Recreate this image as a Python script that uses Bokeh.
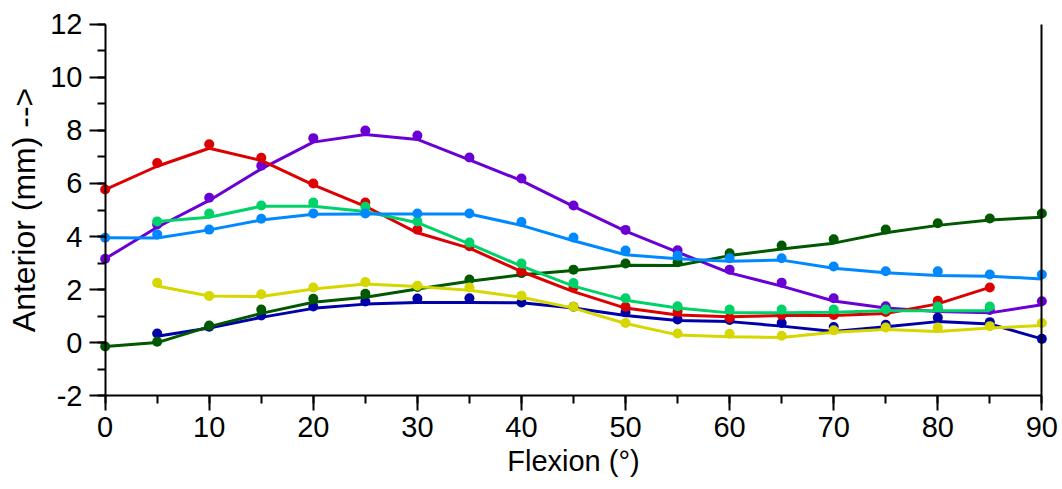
from bokeh.plotting import figure
from bokeh.models import Range1d, LinearAxis, SingleIntervalTicker, ColumnDataSource
from bokeh.embed import file_html
from bokeh.resources import INLINE

# ---- data ----
x_full = [0, 5, 10, 15, 20, 25, 30, 35, 40, 45, 50, 55, 60, 65, 70, 75, 80, 85, 90]
x_red = x_full[:18]                 # 0..85
x_green = x_full[1:18]              # 5..85
x_from5 = x_full[1:]                # 5..90

red_pts = [5.77, 6.77, 7.48, 6.97, 6.0, 5.28, 4.26, 3.63, 2.68, 2.08, 1.35, 1.17, 0.93, 1.04, 1.04, 1.15, 1.58, 2.08]
red_fit = [5.77, 6.65, 7.33, 6.87, 5.95, 5.14, 4.14, 3.56, 2.68, 1.92, 1.3, 1.04, 0.97, 1.02, 1.02, 1.1, 1.46, 2.08]

purple_pts = [3.16, 4.45, 5.46, 6.67, 7.71, 8.0, 7.81, 6.98, 6.19, 5.17, 4.25, 3.48, 2.75, 2.26, 1.67, 1.37, 1.27, 1.23, 1.56]
purple_fit = [3.16, 4.35, 5.36, 6.55, 7.56, 7.85, 7.66, 6.89, 6.11, 5.14, 4.2, 3.41, 2.63, 2.13, 1.57, 1.3, 1.17, 1.12, 1.43]

green_pts = [4.57, 4.87, 5.17, 5.28, 5.12, 4.57, 3.77, 2.98, 2.25, 1.67, 1.37, 1.25, 1.25, 1.25, 1.25, 1.36, 1.36]
green_fit = [4.57, 4.73, 5.14, 5.14, 4.94, 4.52, 3.72, 2.88, 2.13, 1.6, 1.3, 1.12, 1.12, 1.14, 1.2, 1.2, 1.2]

blue_pts = [3.95, 4.08, 4.26, 4.67, 4.87, 4.87, 4.87, 4.87, 4.55, 3.96, 3.47, 3.28, 3.18, 3.18, 2.87, 2.69, 2.69, 2.57, 2.57]
blue_fit = [3.95, 3.94, 4.25, 4.62, 4.84, 4.85, 4.85, 4.85, 4.42, 3.84, 3.31, 3.16, 3.07, 3.11, 2.8, 2.63, 2.53, 2.5, 2.4]

yellow_pts = [2.26, 1.76, 1.82, 2.08, 2.28, 2.14, 2.08, 1.77, 1.35, 0.74, 0.34, 0.33, 0.26, 0.46, 0.57, 0.57, 0.62, 0.74]
yellow_fit = [2.13, 1.76, 1.74, 2.02, 2.21, 2.11, 1.97, 1.71, 1.3, 0.72, 0.29, 0.22, 0.19, 0.39, 0.49, 0.42, 0.55, 0.64]

dkgreen_pts = [-0.15, 0.03, 0.64, 1.25, 1.65, 1.84, 2.1, 2.38, 2.62, 2.75, 2.98, 3.03, 3.37, 3.66, 3.9, 4.26, 4.5, 4.68, 4.87]
dkgreen_fit = [-0.15, 0.0, 0.6, 1.1, 1.52, 1.71, 2.02, 2.31, 2.56, 2.72, 2.92, 2.91, 3.28, 3.53, 3.75, 4.14, 4.42, 4.62, 4.73]

dkblue_pts = [0.34, 0.6, 1.02, 1.36, 1.55, 1.66, 1.67, 1.51, 1.35, 1.14, 0.87, 0.85, 0.74, 0.59, 0.67, 0.94, 0.77, 0.14]
dkblue_fit = [0.24, 0.55, 0.95, 1.29, 1.45, 1.51, 1.51, 1.5, 1.3, 1.02, 0.83, 0.79, 0.62, 0.42, 0.6, 0.79, 0.7, 0.14]

x_min, x_max = 0, 90
y_min, y_max = -2, 12

# drawing order bottom -> top
series = [
    (x_full, purple_pts, purple_fit, "#6A00D4"),
    (x_from5, dkblue_pts, dkblue_fit, "#0000A8"),
    (x_full, dkgreen_pts, dkgreen_fit, "#005800"),
    (x_red, red_pts, red_fit, "#DC0000"),
    (x_green, green_pts, green_fit, "#00D26A"),
    (x_full, blue_pts, blue_fit, "#0088FF"),
    (x_from5, yellow_pts, yellow_fit, "#D6D600"),
]

FONT = "Liberation Sans"

# frame is padded symmetrically so that edge markers and outward ticks are not clipped
p = figure(width=1062, height=489, output_backend="svg", toolbar_location=None,
           x_range=Range1d(x_min - 1.6, x_max + 1.6), y_range=Range1d(y_min - 0.6, y_max + 0.6),
           min_border_left=88, min_border_right=4, min_border_top=8, min_border_bottom=78)
p.outline_line_color = None
p.xgrid.visible = False
p.ygrid.visible = False
p.background_fill_color = "white"
p.border_fill_color = "white"

for xs, pts, fit, col in series:
    src = ColumnDataSource(dict(x=xs, pts=pts, fit=fit))
    p.line("x", "fit", source=src, line_color=col, line_width=3)
    p.scatter("x", "pts", source=src, size=10, fill_color=col, line_color=col, line_width=0)

xt = SingleIntervalTicker(interval=10, num_minor_ticks=2)
yt = SingleIntervalTicker(interval=2, num_minor_ticks=2)

# standard axes at frame edges: labels only
p.xaxis.ticker = xt
p.yaxis.ticker = yt
for ax in (p.xaxis[0], p.yaxis[0]):
    ax.axis_line_color = None
    ax.major_tick_line_color = None
    ax.minor_tick_line_color = None
    ax.major_tick_in = 0
    ax.major_tick_out = 0
    ax.minor_tick_in = 0
    ax.minor_tick_out = 0
    ax.major_label_text_font = FONT
    ax.major_label_text_font_size = "29px"
    ax.major_label_text_color = "black"
    ax.axis_label_text_font = FONT
    ax.axis_label_text_font_size = "29px"
    ax.axis_label_text_font_style = "normal"
    ax.axis_label_text_color = "black"
p.yaxis.axis_label_text_font_size = "32px"
p.xaxis.major_label_standoff = 5
p.yaxis.major_label_standoff = 6
p.yaxis.major_label_overrides = {-2: "-2"}
p.xaxis.axis_label = "Flexion (°)"
p.yaxis.axis_label = "Anterior (mm) -->"
p.xaxis.axis_label_standoff = 5
p.yaxis.axis_label_standoff = 5


def line_axis(ticker, loc, bounds, tick_out, minor_out):
    a = LinearAxis(ticker=ticker, fixed_location=loc, bounds=bounds,
                   axis_line_width=2, axis_line_color="black",
                   major_tick_line_width=2, minor_tick_line_width=2,
                   major_tick_line_color="black" if tick_out else None,
                   minor_tick_line_color="black" if minor_out else None,
                   major_tick_in=0, minor_tick_in=0,
                   major_tick_out=tick_out, minor_tick_out=minor_out,
                   major_label_text_alpha=0, major_label_text_font_size="1px")
    return a


p.add_layout(line_axis(yt, x_min, (y_min, y_max), 16, 8), "left")
p.add_layout(line_axis(xt, y_min, (x_min, x_max), 15, 8), "below")
p.add_layout(line_axis(yt, x_max, (y_min, y_max), 0, 0), "right")

open("out.html", "w").write(file_html(p, INLINE))
